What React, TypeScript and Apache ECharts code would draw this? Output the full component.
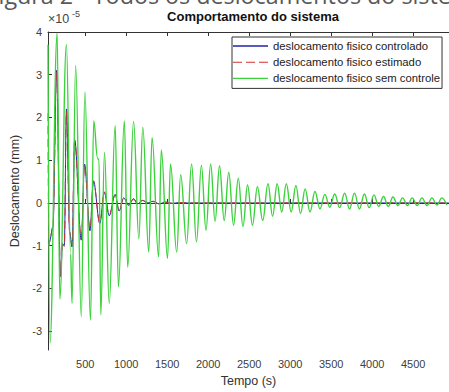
import React, { useEffect, useRef } from "react";
import * as echarts from "echarts";

// Tick values
const xTicks = [500, 1000, 1500, 2000, 2500, 3000, 3500, 4000, 4500];
const yTicks = [-3, -2, -1, 0, 1, 2, 3, 4];

// deslocamento fisico controlado (×1e-5 mm)
const ctrlT = [50, 64, 106, 151, 199, 223, 245, 271, 311, 339, 371, 452, 492, 558, 600, 678, 733, 793, 865, 913, 970, 1030, 1090, 1140, 1200, 1260, 1330, 1400, 1480, 1560, 1650, 1750, 4937];
const ctrlV = [-0.95, -0.9, -0.57, 3.1, -1.72, -0.95, -1.0, 2.2, -0.68, -1.03, 1.48, -0.87, 0.91, -0.65, 0.52, -0.48, 0.25, -0.3, 0.2, -0.19, 0.12, -0.05, 0.1, -0.02, 0.06, 0.0, 0.04, -0.02, 0.02, -0.01, 0.01, 0, 0];

// deslocamento fisico estimado
const estT = [46, 55, 64, 106, 151, 199, 223, 245, 271, 311, 339, 371, 452, 492, 558, 600, 678, 733, 793, 865, 913, 970, 1030, 1090, 1140, 1200, 1260, 1330, 1400, 1480, 1560, 1650, 1750, 4937];
const estV = [2.1, -1.0, -0.92, -0.55, 3.05, -1.68, -0.98, -1.02, 2.15, -0.7, -1.0, 1.45, -0.85, 0.88, -0.62, 0.5, -0.46, 0.26, -0.28, 0.19, -0.17, 0.13, -0.06, 0.09, -0.03, 0.06, 0.01, 0.03, -0.02, 0.02, -0.01, 0.01, 0, 0];

// deslocamento fisico sem controle
const freeT = [46, 70, 158, 190, 271, 322, 339, 383, 452, 496, 564, 604, 650, 668, 690, 735, 793, 865, 905, 977, 1018, 1090, 1154, 1202, 1275, 1315, 1395, 1428, 1504, 1540, 1616, 1664, 1737, 1797, 1857, 1917, 1973, 2030, 2084, 2138, 2195, 2251, 2309, 2367, 2424, 2480, 2540, 2600, 2665, 2729, 2785, 2841, 2897, 2953, 3012, 3070, 3126, 3182, 3242, 3302, 3363, 3423, 3483, 3543, 3604, 3664, 3724, 3784, 3845, 3905, 3963, 4022, 4080, 4138, 4196, 4254, 4313, 4371, 4430, 4488, 4548, 4608, 4668, 4729, 4790, 4850, 4910];
const freeV = [3.7, -3.28, 3.98, -2.25, 3.71, -1.2, -2.35, 3.22, -2.66, 2.6, -2.74, 1.92, 1.05, 1.0, -2.62, 1.18, -2.35, 1.81, -1.96, 1.92, -1.5, 1.91, -0.84, 1.77, -1.15, 1.53, -1.26, 1.24, -1.3, 0.91, -1.15, 0.66, -0.95, 0.91, -0.91, 0.88, -0.64, 0.91, -0.43, 0.87, -0.41, 0.72, -0.52, 0.58, -0.55, 0.42, -0.52, 0.38, -0.41, 0.45, -0.31, 0.45, -0.21, 0.45, -0.21, 0.41, -0.25, 0.33, -0.21, 0.27, -0.14, 0.2, -0.1, 0.21, -0.11, 0.23, -0.14, 0.23, -0.14, 0.21, -0.11, 0.19, -0.08, 0.15, -0.08, 0.14, -0.06, 0.12, -0.06, 0.12, -0.06, 0.12, -0.06, 0.12, -0.05, 0.12, -0.05];

const seriesNames = [
  "deslocamento fisico controlado",
  "deslocamento fisico estimado",
  "deslocamento fisico sem controle",
];
const seriesColors = ["#2222aa", "#d43030", "#3cd23c"];
const DASH = [8, 5];
const legendIcons = [
  "rect",
  "path://M0,0h9v1h-9z M13,0h9v1h-9z M26,0h9v1h-9z",
  "rect",
];

const zip = (t: number[], v: number[]) => t.map((x, i) => [x, v[i]]);

const FONT = "'Liberation Sans', Arial, sans-serif";

export default function App() {
  const ref = useRef<HTMLDivElement>(null);
  useEffect(() => {
    if (!ref.current) return;
    const chart = echarts.init(ref.current, undefined, { renderer: "svg" });
    const axisColor = "#333";
    const xCommon = {
      type: "value",
      min: 46,
      max: 4937,
      splitLine: { show: false },
      axisLine: { show: true, lineStyle: { color: axisColor, width: 1 } },
    };
    chart.setOption({
      animation: false,
      backgroundColor: "#fff",
      textStyle: { fontFamily: FONT },
      grid: { left: 48, right: -5, top: 32, bottom: 42 },
      legend: {
        orient: "vertical",
        left: 232,
        top: 37,
        backgroundColor: "#fff",
        borderColor: "#333",
        borderWidth: 1,
        borderRadius: 0,
        padding: [3, 2, 4, 1],
        itemWidth: 35,
        itemHeight: 1.3,
        itemGap: 4.2,
        textStyle: { fontSize: 11.3, lineHeight: 12, color: "#222", fontFamily: FONT },
        data: seriesNames.map((n, i) => ({
          name: n,
          icon: legendIcons[i],
          itemStyle: { color: seriesColors[i] },
        })),
      },
      xAxis: [
        {
          ...xCommon,
          position: "bottom",
          axisTick: { show: true, inside: true, length: 4, customValues: xTicks, lineStyle: { color: axisColor } },
          axisLabel: {
            customValues: xTicks,
            margin: 8,
            fontSize: 11,
            color: "#404040",
            fontFamily: FONT,
            formatter: (v: number) => String(v),
          },
          name: "Tempo (s)",
          nameLocation: "middle",
          nameGap: 24,
          nameTextStyle: { fontSize: 12.5, color: "#333", fontFamily: FONT },
        },
        {
          ...xCommon,
          position: "top",
          axisTick: { show: true, inside: true, length: 4, customValues: xTicks, lineStyle: { color: axisColor } },
          axisLabel: { show: false },
        },
      ],
      yAxis: {
        type: "value",
        min: -3.44,
        max: 4.0,
        splitLine: { show: false },
        axisLine: { show: true, lineStyle: { color: axisColor, width: 1 } },
        axisTick: { show: true, inside: true, length: 4, customValues: yTicks, lineStyle: { color: axisColor } },
        axisLabel: {
          customValues: yTicks,
          margin: 6,
          fontSize: 11,
          color: "#404040",
          fontFamily: FONT,
          formatter: (v: number) => String(v),
        },
        name: "Deslocamento (mm)",
        nameLocation: "middle",
        nameGap: 14,
        nameTextStyle: { fontSize: 12.5, color: "#333", fontFamily: FONT },
      },
      graphic: [
        {
          type: "text",
          x: -13.5,
          y: 6,
          silent: true,
          style: {
            text: "Figura 2 - Todos os deslocamentos do sistema",
            fontSize: 23.3,
            fontFamily: "'Open Sans', sans-serif",
            fill: "#595959",
            align: "left",
            verticalAlign: "bottom",
          },
        },
        {
          type: "text",
          x: 253,
          y: 16.5,
          style: {
            text: "Comportamento do sistema",
            fontSize: 13,
            fontWeight: "bold",
            fontFamily: FONT,
            fill: "#111",
            align: "center",
            verticalAlign: "middle",
          },
        },
        {
          type: "text",
          x: 48,
          y: 18.5,
          style: { text: "×10", fontSize: 12.5, fontFamily: FONT, fill: "#444", align: "left", verticalAlign: "middle" },
        },
        {
          type: "text",
          x: 72,
          y: 13.5,
          style: { text: "-5", fontSize: 9, fontFamily: FONT, fill: "#444", align: "left", verticalAlign: "middle" },
        },
      ],
      series: [
        {
          name: seriesNames[0],
          type: "line",
          data: zip(ctrlT, ctrlV),
          symbol: "none",
          showSymbol: false,
          smooth: 0.35,
          smoothMonotone: "x",
          lineStyle: { color: seriesColors[0], width: 1 },
          itemStyle: { color: seriesColors[0] },
        },
        {
          name: seriesNames[1],
          type: "line",
          data: zip(estT, estV),
          symbol: "none",
          showSymbol: false,
          smooth: 0.35,
          smoothMonotone: "x",
          lineStyle: { color: seriesColors[1], width: 1, type: DASH },
          itemStyle: { color: seriesColors[1] },
        },
        {
          name: seriesNames[2],
          type: "line",
          data: zip(freeT, freeV),
          symbol: "none",
          showSymbol: false,
          smooth: 0.4,
          smoothMonotone: "x",
          lineStyle: { color: seriesColors[2], width: 1.4 },
          itemStyle: { color: seriesColors[2] },
        },
      ],
    });
    return () => chart.dispose();
  }, []);
  return (
    <div
      ref={ref}
      style={{ position: "fixed", left: 0, top: 0, width: 449, height: 392, background: "#fff" }}
    />
  );
}
